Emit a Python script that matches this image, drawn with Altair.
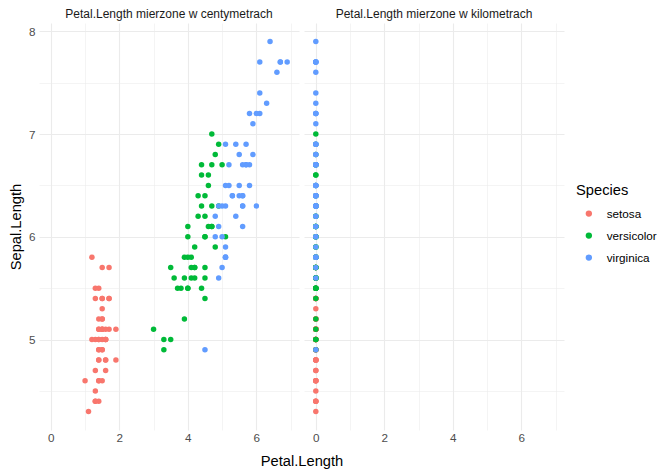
import altair as alt
import pandas as pd

species_names = ["setosa", "versicolor", "virginica"]
colors = ["#F8766D", "#00BA38", "#619CFF"]
panels = ["Petal.Length mierzone w centymetrach", "Petal.Length mierzone w kilometrach"]

sepal_setosa = [5.1,4.9,4.7,4.6,5.0,5.4,4.6,5.0,4.4,4.9,5.4,4.8,4.8,4.3,5.8,5.7,5.4,5.1,5.7,5.1,
                5.4,5.1,4.6,5.1,4.8,5.0,5.0,5.2,5.2,4.7,4.8,5.4,5.2,5.5,4.9,5.0,5.5,4.9,4.4,5.1,
                5.0,4.5,4.4,5.0,5.1,4.8,5.1,4.6,5.3,5.0]
petal_setosa = [1.4,1.4,1.3,1.5,1.4,1.7,1.4,1.5,1.4,1.5,1.5,1.6,1.4,1.1,1.2,1.5,1.3,1.4,1.7,1.5,
                1.7,1.5,1.0,1.7,1.9,1.6,1.6,1.5,1.4,1.6,1.6,1.5,1.5,1.4,1.5,1.2,1.3,1.4,1.3,1.5,
                1.3,1.3,1.3,1.6,1.9,1.4,1.6,1.4,1.5,1.4]
sepal_versicolor = [7.0,6.4,6.9,5.5,6.5,5.7,6.3,4.9,6.6,5.2,5.0,5.9,6.0,6.1,5.6,6.7,5.6,5.8,6.2,5.6,
                    5.9,6.1,6.3,6.1,6.4,6.6,6.8,6.7,6.0,5.7,5.5,5.5,5.8,6.0,5.4,6.0,6.7,6.3,5.6,5.5,
                    5.5,6.1,5.8,5.0,5.6,5.7,5.7,6.2,5.1,5.7]
petal_versicolor = [4.7,4.5,4.9,4.0,4.6,4.5,4.7,3.3,4.6,3.9,3.5,4.2,4.0,4.7,3.6,4.4,4.5,4.1,4.5,3.9,
                    4.8,4.0,4.9,4.7,4.3,4.4,4.8,5.0,4.5,3.5,3.8,3.7,3.9,5.1,4.5,4.5,4.7,4.4,4.1,4.0,
                    4.4,4.6,4.0,3.3,4.2,4.2,4.2,4.3,3.0,4.1]
sepal_virginica = [6.3,5.8,7.1,6.3,6.5,7.6,4.9,7.3,6.7,7.2,6.5,6.4,6.8,5.7,5.8,6.4,6.5,7.7,7.7,6.0,
                   6.9,5.6,7.7,6.3,6.7,7.2,6.2,6.1,6.4,7.2,7.4,7.9,6.4,6.3,6.1,7.7,6.3,6.4,6.0,6.9,
                   6.7,6.9,5.8,6.8,6.7,6.7,6.3,6.5,6.2,5.9]
petal_virginica = [6.0,5.1,5.9,5.6,5.8,6.6,4.5,6.3,5.8,6.1,5.1,5.3,5.5,5.0,5.1,5.3,5.5,6.7,6.9,5.0,
                   5.7,4.9,6.7,4.9,5.7,6.0,4.8,4.9,5.6,5.8,6.1,6.4,5.6,5.1,5.6,6.1,5.6,5.5,4.8,5.4,
                   5.6,5.1,5.1,5.9,5.7,5.2,5.0,5.2,5.4,5.1]

sepal = [sepal_setosa, sepal_versicolor, sepal_virginica]
petal = [petal_setosa, petal_versicolor, petal_virginica]

rows = []
for p_i, panel in enumerate(panels):
    factor = 1.0 if p_i == 0 else 1.0 / 100000
    for s_i, sp in enumerate(species_names):
        for sl, pl in zip(sepal[s_i], petal[s_i]):
            rows.append({"panel": panel, "Species": sp, "petal": pl * factor,
                         "sepal": sl, "order": p_i * 1000 + s_i * 100})
df = pd.DataFrame(rows)

font = "Liberation Sans"

x_axis = alt.Axis(
    values=[0, 1, 2, 3, 4, 5, 6, 7],
    labelExpr="datum.value % 2 == 0 ? format(datum.value, 'd') : ''",
    title=None, ticks=False, domain=False, labelPadding=2,
    gridColor="#EBEBEB",
    gridWidth={"condition": {"test": "datum.value % 2 == 0", "value": 1.1}, "value": 0.55},
)
y_axis = alt.Axis(
    values=[4.5, 5, 5.5, 6, 6.5, 7, 7.5, 8],
    labelExpr="datum.value % 1 == 0 ? format(datum.value, 'd') : ''",
    title="Sepal.Length", ticks=False, domain=False, labelPadding=4, titlePadding=5,
    gridColor="#EBEBEB",
    gridWidth={"condition": {"test": "datum.value % 1 == 0", "value": 1.1}, "value": 0.55},
)

base = alt.Chart(df).mark_circle(size=30, opacity=1).encode(
    x=alt.X("petal:Q", scale=alt.Scale(domain=[-0.345, 7.245], nice=False, zero=False), axis=x_axis),
    y=alt.Y("sepal:Q", scale=alt.Scale(domain=[4.12, 8.08], nice=False, zero=False), axis=y_axis),
    color=alt.Color("Species:N", scale=alt.Scale(domain=species_names, range=colors),
                    legend=alt.Legend(title="Species", orient="none", legendX=537, legendY=160,
                                      symbolSize=40, labelFontSize=11.7, titleFontSize=14.7,
                                      titleFontWeight="normal", rowPadding=9, titlePadding=10,
                                      symbolOffset=7, labelOffset=12, symbolType="circle")),
    order=alt.Order("order:Q"),
).properties(width=260, height=407)

chart = base.facet(
    column=alt.Column("panel:N", sort=panels,
                      header=alt.Header(title="Petal.Length", titleOrient="bottom", labelOrient="top",
                                        labelFontSize=12, labelColor="#1A1A1A", labelFont=font,
                                        titleFontSize=14.7, titleColor="#000000", titleFont=font,
                                        titleFontWeight="normal", labelPadding=2, titlePadding=0)),
    spacing=5,
).configure(
    font=font, padding={"left": 0, "right": 0, "top": 0, "bottom": 0}
).configure_axis(
    labelFontSize=11.7, labelColor="#4D4D4D", titleFontSize=14.7, titleColor="#000000",
    titleFontWeight="normal", labelFont=font, titleFont=font,
).configure_legend(
    labelColor="#000000", titleColor="#000000", labelFont=font, titleFont=font,
).configure_view(stroke=None)

chart.save("out.html", embed_options={"renderer": "svg", "actions": False})
